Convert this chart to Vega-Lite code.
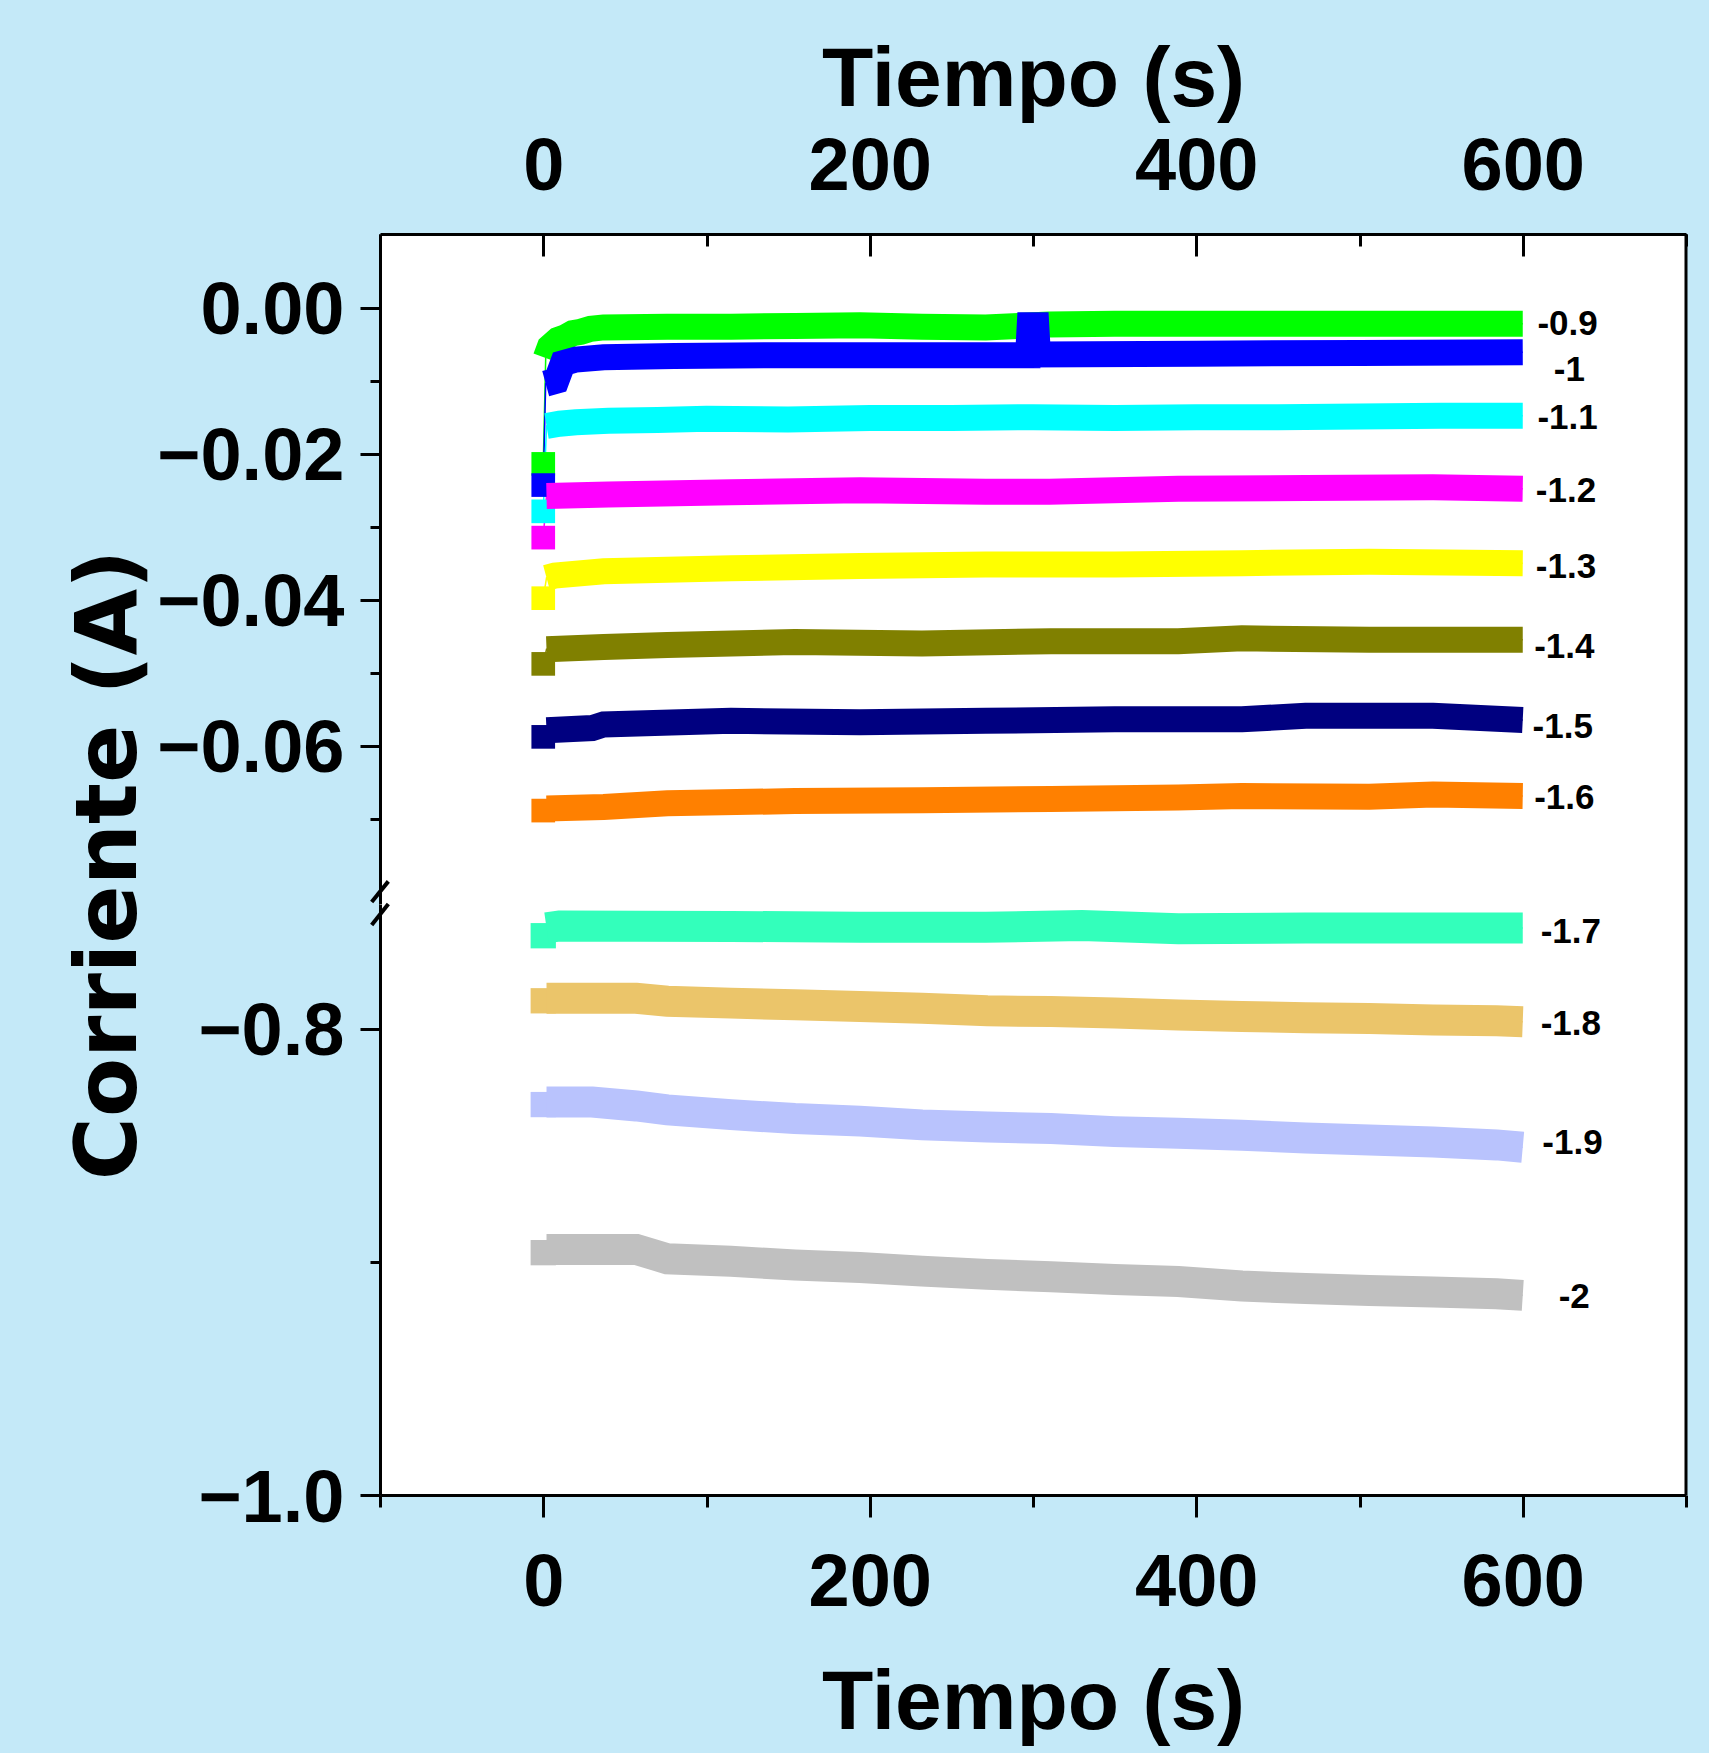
{
  "$schema": "https://vega.github.io/schema/vega-lite/v6.json",
  "background": "#c4e9f8",
  "padding": {"left": 66, "top": 38, "right": 22, "bottom": 8},
  "spacing": 0,
  "bounds": "flush",
  "config": {
    "view": {"stroke": null, "fill": "white"},
    "axis": {
      "labelFont": "Liberation Sans, Arial, sans-serif",
      "labelFontWeight": "bold",
      "labelFontSize": 74,
      "labelColor": "black",
      "labelLimit": 0,
      "titleFont": "Liberation Sans, Arial, sans-serif",
      "titleFontWeight": "bold",
      "titleFontSize": 84,
      "titleColor": "black",
      "titleLimit": 0,
      "domainColor": "black",
      "domainWidth": 3,
      "tickColor": "black",
      "tickWidth": 3,
      "grid": false,
      "labelFlush": false,
      "labelOverlap": false
    }
  },
  "datasets": {
    "up": [
      {"s":"-0.9","t":0,"v":-0.0214},{"s":"-0.9","t":1.5,"v":-0.0069},{"s":"-0.9","t":4,"v":-0.0054},{"s":"-0.9","t":9,"v":-0.0044},{"s":"-0.9","t":14,"v":-0.0040},{"s":"-0.9","t":18,"v":-0.0035},{"s":"-0.9","t":23,"v":-0.0033},{"s":"-0.9","t":29,"v":-0.0029},{"s":"-0.9","t":37,"v":-0.0027},{"s":"-0.9","t":76,"v":-0.0026},{"s":"-0.9","t":115,"v":-0.0026},{"s":"-0.9","t":154,"v":-0.0025},{"s":"-0.9","t":194,"v":-0.0024},{"s":"-0.9","t":232,"v":-0.0026},{"s":"-0.9","t":271,"v":-0.0027},{"s":"-0.9","t":310,"v":-0.0023},{"s":"-0.9","t":350,"v":-0.0022},{"s":"-0.9","t":400,"v":-0.0022},{"s":"-0.9","t":450,"v":-0.0022},{"s":"-0.9","t":500,"v":-0.0022},{"s":"-0.9","t":550,"v":-0.0022},{"s":"-0.9","t":600,"v":-0.0022},
      {"s":"-1","t":0,"v":-0.0243},{"s":"-1","t":1.5,"v":-0.0104},{"s":"-1","t":8,"v":-0.0100},{"s":"-1","t":12,"v":-0.0076},{"s":"-1","t":20,"v":-0.0071},{"s":"-1","t":37,"v":-0.0068},{"s":"-1","t":80,"v":-0.0066},{"s":"-1","t":150,"v":-0.0065},{"s":"-1","t":250,"v":-0.0065},{"s":"-1","t":297,"v":-0.0065},{"s":"-1","t":298,"v":-0.0024},{"s":"-1","t":302,"v":-0.0024},{"s":"-1","t":303,"v":-0.0064},{"s":"-1","t":400,"v":-0.0063},{"s":"-1","t":500,"v":-0.0062},{"s":"-1","t":600,"v":-0.0061},
      {"s":"-1.1","t":0,"v":-0.0279},{"s":"-1.1","t":2,"v":-0.0162},{"s":"-1.1","t":10,"v":-0.0159},{"s":"-1.1","t":20,"v":-0.0157},{"s":"-1.1","t":40,"v":-0.0155},{"s":"-1.1","t":70,"v":-0.0154},{"s":"-1.1","t":100,"v":-0.0152},{"s":"-1.1","t":150,"v":-0.0153},{"s":"-1.1","t":200,"v":-0.0151},{"s":"-1.1","t":250,"v":-0.0151},{"s":"-1.1","t":300,"v":-0.0150},{"s":"-1.1","t":350,"v":-0.0151},{"s":"-1.1","t":400,"v":-0.0150},{"s":"-1.1","t":450,"v":-0.0150},{"s":"-1.1","t":500,"v":-0.0149},{"s":"-1.1","t":550,"v":-0.0148},{"s":"-1.1","t":600,"v":-0.0148},
      {"s":"-1.2","t":0,"v":-0.0315},{"s":"-1.2","t":2,"v":-0.0258},{"s":"-1.2","t":40,"v":-0.0256},{"s":"-1.2","t":115,"v":-0.0253},{"s":"-1.2","t":194,"v":-0.0250},{"s":"-1.2","t":271,"v":-0.0252},{"s":"-1.2","t":310,"v":-0.0252},{"s":"-1.2","t":389,"v":-0.0248},{"s":"-1.2","t":467,"v":-0.0247},{"s":"-1.2","t":545,"v":-0.0246},{"s":"-1.2","t":600,"v":-0.0248},
      {"s":"-1.3","t":0,"v":-0.0398},{"s":"-1.3","t":2,"v":-0.0370},{"s":"-1.3","t":7,"v":-0.0367},{"s":"-1.3","t":37,"v":-0.0361},{"s":"-1.3","t":115,"v":-0.0357},{"s":"-1.3","t":194,"v":-0.0354},{"s":"-1.3","t":271,"v":-0.0352},{"s":"-1.3","t":350,"v":-0.0352},{"s":"-1.3","t":428,"v":-0.0350},{"s":"-1.3","t":506,"v":-0.0348},{"s":"-1.3","t":600,"v":-0.0350},
      {"s":"-1.4","t":0,"v":-0.0488},{"s":"-1.4","t":2,"v":-0.0468},{"s":"-1.4","t":37,"v":-0.0465},{"s":"-1.4","t":76,"v":-0.0462},{"s":"-1.4","t":154,"v":-0.0458},{"s":"-1.4","t":232,"v":-0.0460},{"s":"-1.4","t":311,"v":-0.0457},{"s":"-1.4","t":389,"v":-0.0457},{"s":"-1.4","t":428,"v":-0.0453},{"s":"-1.4","t":506,"v":-0.0455},{"s":"-1.4","t":600,"v":-0.0455},
      {"s":"-1.5","t":0,"v":-0.0588},{"s":"-1.5","t":2,"v":-0.0579},{"s":"-1.5","t":30,"v":-0.0576},{"s":"-1.5","t":37,"v":-0.0571},{"s":"-1.5","t":115,"v":-0.0566},{"s":"-1.5","t":194,"v":-0.0568},{"s":"-1.5","t":271,"v":-0.0566},{"s":"-1.5","t":350,"v":-0.0564},{"s":"-1.5","t":428,"v":-0.0564},{"s":"-1.5","t":467,"v":-0.0559},{"s":"-1.5","t":545,"v":-0.0559},{"s":"-1.5","t":600,"v":-0.0565},
      {"s":"-1.6","t":0,"v":-0.0689},{"s":"-1.6","t":2,"v":-0.0686},{"s":"-1.6","t":37,"v":-0.0684},{"s":"-1.6","t":76,"v":-0.0679},{"s":"-1.6","t":154,"v":-0.0676},{"s":"-1.6","t":232,"v":-0.0675},{"s":"-1.6","t":311,"v":-0.0673},{"s":"-1.6","t":389,"v":-0.0671},{"s":"-1.6","t":428,"v":-0.0669},{"s":"-1.6","t":506,"v":-0.0670},{"s":"-1.6","t":545,"v":-0.0667},{"s":"-1.6","t":600,"v":-0.0669}
    ],
    "lo": [
      {"s":"-1.7","t":0,"v":-0.7602},{"s":"-1.7","t":2,"v":-0.7568},{"s":"-1.7","t":10,"v":-0.7560},{"s":"-1.7","t":57,"v":-0.7561},{"s":"-1.7","t":115,"v":-0.7562},{"s":"-1.7","t":194,"v":-0.7566},{"s":"-1.7","t":271,"v":-0.7566},{"s":"-1.7","t":330,"v":-0.7558},{"s":"-1.7","t":389,"v":-0.7572},{"s":"-1.7","t":467,"v":-0.7569},{"s":"-1.7","t":545,"v":-0.7569},{"s":"-1.7","t":600,"v":-0.7569},
      {"s":"-1.8","t":0,"v":-0.7881},{"s":"-1.8","t":2,"v":-0.7870},{"s":"-1.8","t":57,"v":-0.7870},{"s":"-1.8","t":76,"v":-0.7883},{"s":"-1.8","t":115,"v":-0.7891},{"s":"-1.8","t":154,"v":-0.7898},{"s":"-1.8","t":194,"v":-0.7905},{"s":"-1.8","t":232,"v":-0.7913},{"s":"-1.8","t":272,"v":-0.7924},{"s":"-1.8","t":311,"v":-0.7927},{"s":"-1.8","t":350,"v":-0.7933},{"s":"-1.8","t":389,"v":-0.7942},{"s":"-1.8","t":428,"v":-0.7948},{"s":"-1.8","t":467,"v":-0.7954},{"s":"-1.8","t":506,"v":-0.7957},{"s":"-1.8","t":545,"v":-0.7963},{"s":"-1.8","t":584,"v":-0.7967},{"s":"-1.8","t":600,"v":-0.7971},
      {"s":"-1.9","t":0,"v":-0.8326},{"s":"-1.9","t":2,"v":-0.8315},{"s":"-1.9","t":30,"v":-0.8315},{"s":"-1.9","t":57,"v":-0.8332},{"s":"-1.9","t":76,"v":-0.8349},{"s":"-1.9","t":115,"v":-0.8369},{"s":"-1.9","t":154,"v":-0.8386},{"s":"-1.9","t":194,"v":-0.8397},{"s":"-1.9","t":232,"v":-0.8413},{"s":"-1.9","t":272,"v":-0.8422},{"s":"-1.9","t":311,"v":-0.8429},{"s":"-1.9","t":350,"v":-0.8442},{"s":"-1.9","t":389,"v":-0.8449},{"s":"-1.9","t":428,"v":-0.8458},{"s":"-1.9","t":467,"v":-0.8469},{"s":"-1.9","t":506,"v":-0.8478},{"s":"-1.9","t":545,"v":-0.8486},{"s":"-1.9","t":584,"v":-0.8499},{"s":"-1.9","t":600,"v":-0.8509},
      {"s":"-2","t":0,"v":-0.8961},{"s":"-2","t":2,"v":-0.8947},{"s":"-2","t":57,"v":-0.8947},{"s":"-2","t":76,"v":-0.8987},{"s":"-2","t":115,"v":-0.8998},{"s":"-2","t":154,"v":-0.9014},{"s":"-2","t":194,"v":-0.9025},{"s":"-2","t":232,"v":-0.9040},{"s":"-2","t":272,"v":-0.9054},{"s":"-2","t":311,"v":-0.9064},{"s":"-2","t":350,"v":-0.9076},{"s":"-2","t":389,"v":-0.9085},{"s":"-2","t":428,"v":-0.9104},{"s":"-2","t":467,"v":-0.9115},{"s":"-2","t":506,"v":-0.9123},{"s":"-2","t":545,"v":-0.9130},{"s":"-2","t":584,"v":-0.9137},{"s":"-2","t":600,"v":-0.9144}
    ],
    "labU": [
      {"s":"-0.9","t":609,"v":-0.0020},{"s":"-1","t":619,"v":-0.0083},{"s":"-1.1","t":609,"v":-0.0148},{"s":"-1.2","t":608,"v":-0.0248},{"s":"-1.3","t":608,"v":-0.0352},{"s":"-1.4","t":607,"v":-0.0462},{"s":"-1.5","t":606,"v":-0.0572},{"s":"-1.6","t":607,"v":-0.0669}
    ],
    "labL": [
      {"s":"-1.7","t":611,"v":-0.7578},{"s":"-1.8","t":611,"v":-0.7971},{"s":"-1.9","t":612,"v":-0.8484},{"s":"-2","t":622,"v":-0.9141}
    ],
    "brkU": [{"t":-105.1,"t2":-94.9,"v":-0.08142,"v2":-0.0786}],
    "brkL": [{"t":-105.1,"t2":-94.9,"v":-0.75562,"v2":-0.7466}]
  },
  "vconcat": [
    {
      "width": 1306,
      "height": 670,
      "layer": [
        {
          "data": {"name": "up"},
          "mark": {"type": "line", "strokeWidth": 1.5},
          "encoding": {
            "x": {"field": "t", "type": "quantitative", "scale": {"domain": [-100, 700], "nice": false, "zero": false},
              "axis": {"orient": "top", "values": [-100,0,100,200,300,400,500,600,700],
                "labelExpr": "datum.value % 200 === 0 ? datum.label : ''",
                "tickSize": {"condition": {"test": "datum.value % 200 === 0", "value": -22}, "value": -12},
                "labelPadding": 66.7, "labelBaseline": "alphabetic",
                "title": "Tiempo (s)", "titleY": -128.7, "titleBaseline": "alphabetic"}},
            "y": {"field": "v", "type": "quantitative", "scale": {"domain": [-0.0817, 0.0101], "nice": false, "zero": false},
              "axis": {"values": [0,-0.01,-0.02,-0.03,-0.04,-0.05,-0.06,-0.07], "format": ".2f",
                "labelExpr": "round(abs(datum.value)*100) % 2 === 0 ? datum.label : ''",
                "tickSize": {"condition": {"test": "round(abs(datum.value)*100) % 2 === 0", "value": 20}, "value": 10},
                "labelPadding": 16, "labelBaseline": "middle", "labelOffset": 4,
                "title": "Corriente (A)", "titleFont": "DejaVu Sans, Liberation Sans, sans-serif", "titleFontSize": 86,
                "titleAngle": -90, "titleBaseline": "middle", "titleAlign": "center", "titleX": -271, "titleY": 630.4}},
            "color": {"field": "s", "type": "nominal", "legend": null,
              "scale": {"domain": ["-0.9","-1","-1.1","-1.2","-1.3","-1.4","-1.5","-1.6","-1.7","-1.8","-1.9","-2"],
                "range": ["#00ff00","#0000ff","#00ffff","#ff00ff","#ffff00","#808000","#000080","#ff8000","#33ffbb","#ebc56a","#b9c3fd","#c0c0c0"]}}
          }
        },
        {
          "data": {"name": "up"},
          "transform": [{"filter": "datum.t == 0"}],
          "mark": {"type": "point", "shape": "square", "filled": true, "size": 560, "opacity": 1, "strokeWidth": 0},
          "encoding": {
            "x": {"field": "t", "type": "quantitative"},
            "y": {"field": "v", "type": "quantitative"},
            "color": {"field": "s", "type": "nominal", "legend": null}
          }
        },
        {
          "data": {"name": "up"},
          "transform": [{"filter": "datum.t > 0"}],
          "mark": {"type": "line", "strokeWidth": 26, "strokeJoin": "miter", "strokeMiterLimit": 2},
          "encoding": {
            "x": {"field": "t", "type": "quantitative"},
            "y": {"field": "v", "type": "quantitative"},
            "color": {"field": "s", "type": "nominal", "legend": null}
          }
        },
        {
          "data": {"name": "labU"},
          "mark": {"type": "text", "align": "left", "baseline": "middle", "font": "Liberation Sans, Arial, sans-serif", "fontWeight": "bold", "fontSize": 35, "dy": 2, "color": "black"},
          "encoding": {
            "x": {"field": "t", "type": "quantitative"},
            "y": {"field": "v", "type": "quantitative"},
            "text": {"field": "s"}
          }
        },
        {
          "data": {"name": "brkU"},
          "mark": {"type": "rule", "strokeWidth": 4, "color": "black"},
          "encoding": {
            "x": {"field": "t", "type": "quantitative"},
            "x2": {"field": "t2"},
            "y": {"field": "v", "type": "quantitative"},
            "y2": {"field": "v2"}
          }
        },
        {
          "data": {"values": [{}]},
          "mark": {"type": "rule", "strokeWidth": 3, "color": "black"},
          "encoding": {"x": {"datum": 700, "type": "quantitative"}}
        }
      ]
    },
    {
      "width": 1306,
      "height": 591,
      "layer": [
        {
          "data": {"name": "lo"},
          "mark": {"type": "line", "strokeWidth": 1.5},
          "encoding": {
            "x": {"field": "t", "type": "quantitative", "scale": {"domain": [-100, 700], "nice": false, "zero": false},
              "axis": {"orient": "bottom", "values": [-100,0,100,200,300,400,500,600,700],
                "labelExpr": "datum.value % 200 === 0 ? datum.label : ''",
                "tickSize": {"condition": {"test": "datum.value % 200 === 0", "value": 22}, "value": 12},
                "labelPadding": 88.5, "labelBaseline": "alphabetic",
                "title": "Tiempo (s)", "titleY": 233, "titleBaseline": "alphabetic"}},
            "y": {"field": "v", "type": "quantitative", "scale": {"domain": [-1.0, -0.7466], "nice": false, "zero": false},
              "axis": {"values": [-1.0,-0.9,-0.8], "format": ".1f",
                "labelExpr": "abs(datum.value + 0.9) < 0.001 ? '' : datum.label",
                "tickSize": {"condition": {"test": "abs(datum.value + 0.9) < 0.001", "value": 10}, "value": 20},
                "labelPadding": 16, "labelBaseline": "middle", "labelOffset": 4,
                "title": null}},
            "color": {"field": "s", "type": "nominal", "legend": null,
              "scale": {"domain": ["-0.9","-1","-1.1","-1.2","-1.3","-1.4","-1.5","-1.6","-1.7","-1.8","-1.9","-2"],
                "range": ["#00ff00","#0000ff","#00ffff","#ff00ff","#ffff00","#808000","#000080","#ff8000","#33ffbb","#ebc56a","#b9c3fd","#c0c0c0"]}}
          }
        },
        {
          "data": {"name": "lo"},
          "transform": [{"filter": "datum.t == 0"}],
          "mark": {"type": "point", "shape": "square", "filled": true, "size": 640, "opacity": 1, "strokeWidth": 0},
          "encoding": {
            "x": {"field": "t", "type": "quantitative"},
            "y": {"field": "v", "type": "quantitative"},
            "color": {"field": "s", "type": "nominal", "legend": null}
          }
        },
        {
          "data": {"name": "lo"},
          "transform": [{"filter": "datum.t > 0"}],
          "mark": {"type": "line", "strokeWidth": 31, "strokeJoin": "miter", "strokeMiterLimit": 2},
          "encoding": {
            "x": {"field": "t", "type": "quantitative"},
            "y": {"field": "v", "type": "quantitative"},
            "color": {"field": "s", "type": "nominal", "legend": null}
          }
        },
        {
          "data": {"name": "labL"},
          "mark": {"type": "text", "align": "left", "baseline": "middle", "font": "Liberation Sans, Arial, sans-serif", "fontWeight": "bold", "fontSize": 35, "dy": 2, "color": "black"},
          "encoding": {
            "x": {"field": "t", "type": "quantitative"},
            "y": {"field": "v", "type": "quantitative"},
            "text": {"field": "s"}
          }
        },
        {
          "data": {"name": "brkL"},
          "mark": {"type": "rule", "strokeWidth": 4, "color": "black"},
          "encoding": {
            "x": {"field": "t", "type": "quantitative"},
            "x2": {"field": "t2"},
            "y": {"field": "v", "type": "quantitative"},
            "y2": {"field": "v2"}
          }
        },
        {
          "data": {"values": [{}]},
          "mark": {"type": "rule", "strokeWidth": 3, "color": "black"},
          "encoding": {"x": {"datum": 700, "type": "quantitative"}}
        }
      ]
    }
  ]
}
